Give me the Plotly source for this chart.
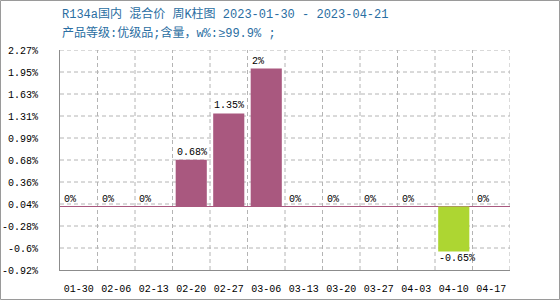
import plotly.graph_objects as go

categories = ["01-30", "02-06", "02-13", "02-20", "02-27", "03-06",
              "03-13", "03-20", "03-27", "04-03", "04-10", "04-17"]
values = [0, 0, 0, 0.68, 1.35, 2, 0, 0, 0, 0, -0.65, 0]
value_labels = ["0%", "0%", "0%", "0.68%", "1.35%", "2%", "0%", "0%", "0%", "0%", "-0.65%", "0%"]
y_tickvals = [-0.92, -0.601, -0.282, 0.037, 0.356, 0.675, 0.994, 1.313, 1.632, 1.951, 2.27]
y_ticktext = ["-0.92%", "-0.6%", "-0.28%", "0.04%", "0.36%", "0.68%", "0.99%", "1.31%", "1.63%", "1.95%", "2.27%"]
title_text = "R134a国内 混合价 周K柱图 2023-01-30 - 2023-04-21"
subtitle_text = "产品等级:优级品;含量，w%:≥99.9% ;"

POS = "#A9587F"
NEG = "#ADD632"
GRID = "#B4B4B4"
MONO = "Liberation Mono, DejaVu Sans Mono, Noto Sans CJK SC"

W, H = 560, 300
ML, MR, MT, MB = 60, 50, 50, 30
PW, PH = W - ML - MR, H - MT - MB

colors = [NEG if v < 0 else POS for v in values]

fig = go.Figure()
fig.add_trace(go.Bar(
    x=categories, y=values, marker=dict(color=colors, line=dict(width=0)),
    width=0.83, hoverinfo="skip", showlegend=False,
))

annotations = []
for c, v, t in zip(categories, values, value_labels):
    annotations.append(dict(
        x=c, y=v, xref="x", yref="y", text=t, showarrow=False,
        xanchor="left", yanchor="top" if v < 0 else "bottom",
        xshift=-15.5, yshift=1 if v >= 0 else -1,
        font=dict(family=MONO, size=10, color="#000"), borderpad=0,
    ))

annotations.append(dict(
    x=0, y=1 + (MT - 14) / PH, xref="paper", yref="paper",
    text=title_text, showarrow=False, xanchor="left", yanchor="middle",
    font=dict(family=MONO, size=12, color="#2A6EA2"),
))
annotations.append(dict(
    x=0, y=1 + (MT - 33) / PH, xref="paper", yref="paper",
    text=subtitle_text, showarrow=False, xanchor="left", yanchor="middle",
    font=dict(family=MONO, size=12, color="#2A6EA2"),
))

# dashed grid: horizontal at y ticks, vertical at category boundaries
grid_dash = dict(color=GRID, width=1, dash="4px,3px")
shapes = []
for tv in y_tickvals[1:]:
    shapes.append(dict(type="line", xref="paper", yref="y", x0=0, x1=1,
                       y0=tv, y1=tv, line=grid_dash, layer="below"))
for i in range(1, len(categories) + 1):
    shapes.append(dict(type="line", xref="x", yref="paper", x0=i - 0.5, x1=i - 0.5,
                       y0=0, y1=1, line=grid_dash, layer="below"))
shapes.append(dict(
    type="rect", xref="paper", yref="paper",
    x0=(-ML + 0.5) / PW, x1=1 + (MR - 0.5) / PW,
    y0=(-MB + 0.5) / PH, y1=1 + (MT - 0.5) / PH,
    line=dict(color="#9A9A9A", width=1), layer="above",
))

fig.update_layout(
    width=W, height=H,
    margin=dict(l=ML, r=MR, t=MT, b=MB, pad=0),
    paper_bgcolor="white", plot_bgcolor="white",
    bargap=0.17,
    annotations=annotations,
    shapes=shapes,
    xaxis=dict(
        type="category", automargin=False, tickangle=0,
        showgrid=False,
        showline=True, linecolor="#8C8C8C", linewidth=1,
        ticks="outside", ticklen=9, tickcolor="rgba(0,0,0,0)",
        tickfont=dict(family=MONO, size=10, color="#000"),
        fixedrange=True, range=[-0.5, len(categories) - 0.5],
    ),
    yaxis=dict(
        range=[-0.92, 2.27], tickvals=y_tickvals, ticktext=y_ticktext,
        automargin=False,
        showgrid=False,
        showline=True, linecolor="#8C8C8C", linewidth=1,
        zeroline=True, zerolinecolor=POS, zerolinewidth=1,
        ticks="outside", ticklen=19, tickcolor="rgba(0,0,0,0)",
        tickfont=dict(family=MONO, size=10, color="#000"),
        fixedrange=True,
    ),
)

fig.write_html("out.html", config={"displayModeBar": False})
